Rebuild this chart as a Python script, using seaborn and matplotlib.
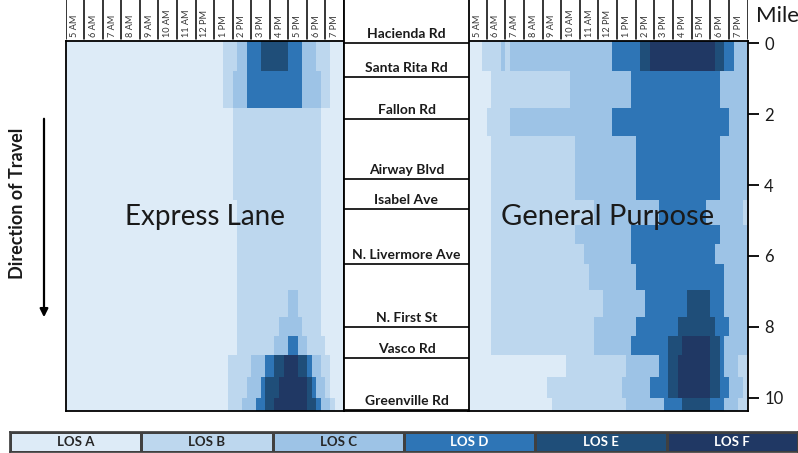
import numpy as np
import seaborn as sns
import matplotlib
import matplotlib.pyplot as plt
from matplotlib.colors import ListedColormap

matplotlib.use('Agg')

# LOS classes and colours
LOS_LABELS = ['LOS A', 'LOS B', 'LOS C', 'LOS D', 'LOS E', 'LOS F']
LOS_COLORS = ['#ddebf7', '#bdd7ee', '#9dc3e6', '#2e75b6', '#1f4e79', '#203864']

# hour columns (each hour = four 15-minute bins, 5 AM to 8 PM)
HOURS = ['5 AM', '6 AM', '7 AM', '8 AM', '9 AM', '10 AM', '11 AM', '12 PM',
         '1 PM', '2 PM', '3 PM', '4 PM', '5 PM', '6 PM', '7 PM']

# segment edges along the corridor (miles)
SEG_EDGES = [-0.06, 0.78, 1.82, 2.61, 4.42, 5.13, 5.66, 6.23, 6.96,
             7.71, 8.25, 8.79, 9.40, 10.01, 10.37]

# LOS per segment, run-length coded over the 60 15-minute bins
EXPRESS = [
    'A34 B3 C2 D3 E6 D3 C3 B3 A3',
    'A34 B2 C3 D12 C4 B2 A3',
    'A36 B19 A5',
    'A36 B19 A5',
    'A37 B18 A5',
    'A37 B18 A5',
    'A37 B18 A5',
    'A37 B18 A5',
    'A37 B11 C2 B5 A5',
    'A37 B9 C5 B4 A5',
    'A37 B8 C3 D2 C2 B4 A4',
    'A35 B5 C3 D2 E2 F3 E2 D1 C2 B2 A3',
    'A35 B4 C3 D1 E3 F6 E1 D1 C2 B1 A3',
    'A35 B3 C3 D2 E2 F7 E2 D1 C2 B1 A2',
]

GENERAL = [
    'A3 B4 C1 B1 C22 D6 E2 F14 E2 D2 C3',
    'A5 B17 C13 D19 C6',
    'A4 B5 C22 D25 C4',
    'A5 B18 C13 D18 C6',
    'A5 B22 C14 D10 C8 B1',
    'A5 B18 C12 D19 C6',
    'A5 B20 C10 D18 C7',
    'A5 B21 C10 D19 C5',
    'A5 B24 C9 D9 E5 D3 C5',
    'A5 B22 C9 D9 E8 D3 C4',
    'A5 B22 C8 D8 E3 F6 E2 D1 C5',
    'A21 B13 C7 D2 E2 F7 E2 D1 C3 B2',
    'A17 B16 C6 D4 E2 F7 E2 D2 C3 B1',
    'A18 B16 C8 D4 E6 D3 C3 B2',
]

ROADS = ['Hacienda Rd', 'Santa Rita Rd', 'Fallon Rd', 'Airway Blvd', 'Isabel Ave',
         'N. Livermore Ave', 'N. First St', 'Vasco Rd', 'Greenville Rd']
ROAD_MILES = [0.0, 0.96, 2.14, 3.83, 4.68, 6.23, 8.0, 8.87, 10.34]

MILE_TICKS = [0, 2, 4, 6, 8, 10]

M0, M1, DM = SEG_EDGES[0], SEG_EDGES[-1], 0.01


def expand(spec):
    out = []
    for tok in spec.split():
        out += ['ABCDEF'.index(tok[0])] * int(tok[1:])
    assert len(out) == 60, spec
    return out


def fine_grid(rows):
    cells = np.array([expand(s) for s in rows])
    n = int(round((M1 - M0) / DM))
    centers = M0 + (np.arange(n) + 0.5) * DM
    idx = np.clip(np.searchsorted(SEG_EDGES, centers, side='right') - 1, 0, len(rows) - 1)
    return cells[idx]


sns.set_theme(style='white')
plt.rcParams['font.family'] = ['Lato', 'DejaVu Sans']

W, H = 798, 453
fig = plt.figure(figsize=(W / 100, H / 100), dpi=100)


def px_axes(x0, y0, x1, y1, **kw):
    return fig.add_axes([x0 / W, 1 - y1 / H, (x1 - x0) / W, (y1 - y0) / H], **kw)


cmap = ListedColormap(LOS_COLORS)
panels = [(65.7, 344, EXPRESS, 'Express Lane', 20),
          (468, 747.5, GENERAL, 'General Purpose', 21)]

for x0, x1, rows, title, tsize in panels:
    ax = px_axes(x0, 41, x1, 411)
    sns.heatmap(fine_grid(rows), ax=ax, cmap=cmap, vmin=-0.5, vmax=5.5, cbar=False,
                xticklabels=False, yticklabels=False)
    for s in ax.spines.values():
        s.set_visible(True)
        s.set_color('black')
        s.set_linewidth(1.3)
    ax.text(0.5, 0.525, title, transform=ax.transAxes, ha='center', va='center',
            fontsize=tsize, color='#1a1a1a')
    if rows is GENERAL:
        ax.yaxis.tick_right()
        ax.set_yticks([(m - M0) / DM for m in MILE_TICKS])
        ax.set_yticklabels([str(m) for m in MILE_TICKS])
        ax.tick_params(axis='y', right=True, left=False, length=8, width=1.3,
                       labelsize=12, pad=4, colors='black')
        for t in ax.get_yticklabels():
            t.set_color('#1a1a1a')

    # time header
    hx = px_axes(x0, 0, x1, 41)
    hx.set_xlim(0, 60)
    hx.set_ylim(0, 1)
    hx.axis('off')
    for k in range(16):
        hx.axvline(k * 4, ymin=0.05, ymax=1, color='black', lw=1.1)
    for k, lab in enumerate(HOURS):
        hx.text(k * 4 + 2, 0.1, lab, rotation=90, ha='center', va='bottom',
                fontsize=6.6, color='#333333')

# middle column with road names
mid = px_axes(344, 0, 469, 411)
mid.set_xlim(0, 1)
mid.set_ylim(M1, (0 - 43) / 35.5)
mid.set_xticks([])
mid.set_yticks([])
for side, s in mid.spines.items():
    s.set_visible(side != 'top')
    s.set_color('black')
    s.set_linewidth(1.3)
for name, m in zip(ROADS, ROAD_MILES):
    mid.axhline(m, color='black', lw=1.2)
    mid.text(0.5, m - 0.14, name, ha='center', va='baseline', fontsize=10,
             fontweight='bold', color='#1a1a1a')

# legend strip
leg = px_axes(10, 432, 798, 452)
sns.heatmap(np.arange(6).reshape(1, 6), ax=leg, cmap=cmap, vmin=-0.5, vmax=5.5,
            cbar=False, annot=np.array([LOS_LABELS]), fmt='', linewidths=1,
            linecolor='#404040', xticklabels=False, yticklabels=False,
            annot_kws={'fontsize': 9.5, 'fontweight': 'bold'})
for s in leg.spines.values():
    s.set_visible(True)
    s.set_color('#404040')

# overlay in pixel coordinates
ov = fig.add_axes([0, 0, 1, 1], zorder=5)
ov.set_xlim(0, W)
ov.set_ylim(H, 0)
ov.axis('off')
ov.annotate('', xy=(44, 320), xytext=(44, 116),
            arrowprops=dict(arrowstyle='-|>', color='black', lw=1.6, mutation_scale=12))
ov.text(18, 203, 'Direction of Travel', rotation=90, ha='center', va='center',
        fontsize=13, fontweight='bold', color='#1a1a1a')
ov.text(778, 16, 'Mile', ha='center', va='center', fontsize=16, color='#1a1a1a')

fig.savefig('out.png', dpi=100)
